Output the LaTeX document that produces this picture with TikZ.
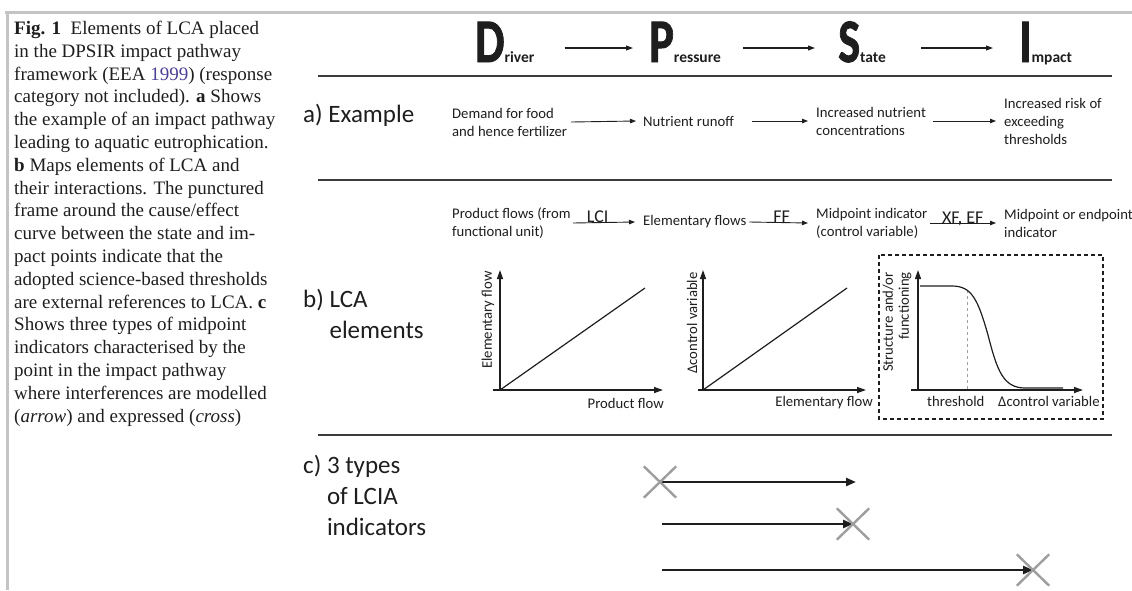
\documentclass[tikz,border=0pt]{standalone}
\usepackage{fontspec}
\usetikzlibrary{arrows.meta,shapes.misc}
\setmainfont{Carlito}
\newfontfamily\capfont{Liberation Serif}
\newfontfamily\bigfont{Carlito Bold}[FakeBold=1.5]
\newfontfamily\subfont{Carlito Bold}
\definecolor{ink}{HTML}{1E1E1E}
\definecolor{rulegrey}{HTML}{3C3C3C}
\definecolor{framegrey}{HTML}{C4C4C4}
\definecolor{crossgrey}{HTML}{9E9E9E}
\definecolor{dashgrey}{HTML}{A0A0A0}
\definecolor{citecol}{HTML}{4A3F96}
% narrow heavy initial followed by a small bold tail
\newcommand\dletter[2]{\scalebox{0.75}[1]{#1}{\subfont\fontsize{15.5}{15.5}\selectfont #2}}
\tikzset{
  dpsir/.style={font=\bigfont\fontsize{62}{62}\selectfont, text=ink, inner sep=0pt, anchor=base west},
  txt/.style={font=\fontsize{14.7}{18}\selectfont, text=ink, inner sep=0pt, align=left, anchor=west},
  sect/.style={font=\fontsize{25}{31}\selectfont, text=ink, inner sep=0pt, align=left, anchor=north west},
  axlbl/.style={font=\fontsize{14.7}{16}\selectfont, text=ink, inner sep=0pt},
  thinarrow/.style={-{Triangle[length=6pt,width=4.5pt]}, line width=0.9pt, draw=ink},
  dparrow/.style={-{Triangle[length=7pt,width=5pt]}, line width=1.1pt, draw=ink},
  sepline/.style={line width=1.5pt, draw=rulegrey},
  axis/.style={-{Triangle[length=9pt,width=6pt]}, line width=1.3pt, draw=ink},
  diag/.style={line width=1.2pt, draw=ink},
  flowlbl/.style={font=\fontsize{18}{18}\selectfont, text=ink, inner sep=0pt, anchor=base},
  lcia/.style={-{Triangle[length=10pt,width=8pt]}, line width=2.9pt, draw=ink},
  crossmark/.style={cross out, draw=crossgrey, line width=2.4pt, minimum width=30pt, minimum height=29pt, inner sep=0pt},
}
\begin{document}
\begin{tikzpicture}[x=1pt,y=-1pt]
\useasboundingbox (0,0) rectangle (1132,590);

% page frame
\draw[framegrey, line width=3pt] (5,12) -- (1132,12);
\draw[framegrey, line width=3pt] (7,12) -- (7,590);

% caption
\node[anchor=north west, align=left, inner sep=0pt, text=ink,
      font=\capfont\fontsize{19}{22.8}\selectfont] (caption) at (14,21)
{\textbf{Fig. 1}\enspace Elements of LCA placed\\
in the DPSIR impact pathway\\
framework (EEA {\color{citecol}1999}) (response\\
category not included). \textbf{a} Shows\\
the example of an impact pathway\\
leading to aquatic eutrophication.\\
\textbf{b} Maps elements of LCA and\\
their interactions. The punctured\\
frame around the cause/effect\\
curve between the state and im-\\
pact points indicate that the\\
adopted science-based thresholds\\
are external references to LCA. \textbf{c}\\
Shows three types of midpoint\\
indicators characterised by the\\
point in the impact pathway\\
where interferences are modelled\\
(\textit{arrow}) and expressed (\textit{cross})};

% DPSIR header
\node[dpsir] (D) at (475,62) {\dletter{D}{river}};
\node[dpsir] (P) at (649,62) {\dletter{P}{ressure}};
\node[dpsir] (S) at (838,62) {\dletter{S}{tate}};
\node[dpsir] (I) at (1019,62) {\dletter{I}{mpact}};
\draw[dparrow] ([xshift=30pt,yshift=14pt]D.base east) -- ([xshift=-16pt,yshift=14pt]P.base west);
\draw[dparrow] ([xshift=22pt,yshift=14pt]P.base east) -- ([xshift=-23pt,yshift=14pt]S.base west);
\draw[dparrow] ([xshift=35pt,yshift=14pt]S.base east) -- ([xshift=-26pt,yshift=14pt]I.base west);

% separators
\draw[sepline] (318,76) -- (1112,76);
\draw[sepline] (318,180) -- (1112,180);
\draw[sepline] (318,435) -- (1112,435);

% a) example pathway
\node[sect] (secA) at (303,104) {a) Example};
\node[txt] (a1) at (452,122) {Demand for food\\and hence fertilizer};
\node[txt] (a2) at (643,121) {Nutrient runoff};
\node[txt] (a3) at (816,121) {Increased nutrient\\concentrations};
\node[txt] (a4) at (1004,121) {Increased risk of\\exceeding\\thresholds};
\draw[thinarrow] ([xshift=4pt]a1.east) -- ([xshift=-7pt]a2.west);
\draw[thinarrow] ([xshift=18pt]a2.east) -- ([xshift=-8pt]a3.west);
\draw[thinarrow] ([xshift=7pt]a3.east) -- ([xshift=-8pt]a4.west);

% b) LCA elements
\node[sect] (secB) at (303,289) {b) LCA\\\phantom{b) }elements};
\node[txt] (b1) at (452,223) {Product flows (from\\functional unit)};
\node[txt] (b2) at (643,222) {Elementary flows};
\node[txt] (b3) at (816,223) {Midpoint indicator\\(control variable)};
\node[txt] (b4) at (1004,223) {Midpoint or endpoint\\indicator};
\draw[thinarrow] ([xshift=2pt]b1.east) -- node[flowlbl, pos=0.4] (lci) {LCI} ([xshift=-8pt]b2.west);
\draw[thinarrow] ([xshift=3pt]b2.east) -- node[flowlbl, pos=0.55] (ff) {FF} ([xshift=-8pt]b3.west);
\draw[thinarrow] ([xshift=2pt]b3.east) -- node[flowlbl, pos=0.5] (xfef) {XF, EF} ([xshift=-8pt]b4.west);

% graph: elementary flow vs product flow
\draw[axis] (493,390) -- (663,390);
\draw[axis] (500,390) -- (500,270);
\draw[diag] (500,390) -- (645,288);
\node[axlbl, rotate=90] (g1y) at (488,320) {Elementary flow};
\node[axlbl, anchor=east] (g1x) at (664,403) {Product flow};

% graph: control variable vs elementary flow
\draw[axis] (698,390) -- (866,390);
\draw[axis] (703,390) -- (703,270);
\draw[diag] (703,390) -- (847,288);
\node[axlbl, rotate=90] (g2y) at (692,323) {Δcontrol variable};
\node[axlbl, anchor=east] (g2x) at (873,403) {Elementary flow};

% graph: threshold response curve (external reference)
\draw[line width=1.3pt, draw=ink, dash pattern=on 4pt off 3pt] (879,255) rectangle (1103,419);
\draw[axis] (911,390) -- (1083,390);
\draw[axis] (918,390) -- (918,270);
\draw[dashed, line width=1pt, draw=dashgrey] (967,290) -- (967,390);
\draw[diag] (920,286) -- (952,286) .. controls (972,286) and (978,300) .. (988,335)
  .. controls (997,370) and (1003,388) .. (1025,388) -- (1063,388);
\node[axlbl, rotate=90, align=right] (g3y) at (897,322) {Structure and/or\\functioning};
\node[axlbl, anchor=west] (thr) at (927,401) {threshold};
\node[axlbl, anchor=west] (g3x) at (998,401) {Δcontrol variable};

% c) LCIA indicator types
\node[sect] (secC) at (303,455) {c) 3 types\\\phantom{c) }of LCIA\\\phantom{c) }indicators};
\coordinate (c1) at (660,482);
\coordinate (e1) at (856,482);
\coordinate (s2) at (662,524);
\coordinate (c2) at (853,524);
\coordinate (s3) at (662,570);
\coordinate (c3) at (1033,570);
\draw[lcia] (c1) -- (e1);
\draw[lcia] (s2) -- (c2);
\draw[lcia] (s3) -- (c3);
\node[crossmark] (x1) at (c1) {};
\node[crossmark] (x2) at (c2) {};
\node[crossmark] (x3) at (c3) {};
\end{tikzpicture}
\end{document}
